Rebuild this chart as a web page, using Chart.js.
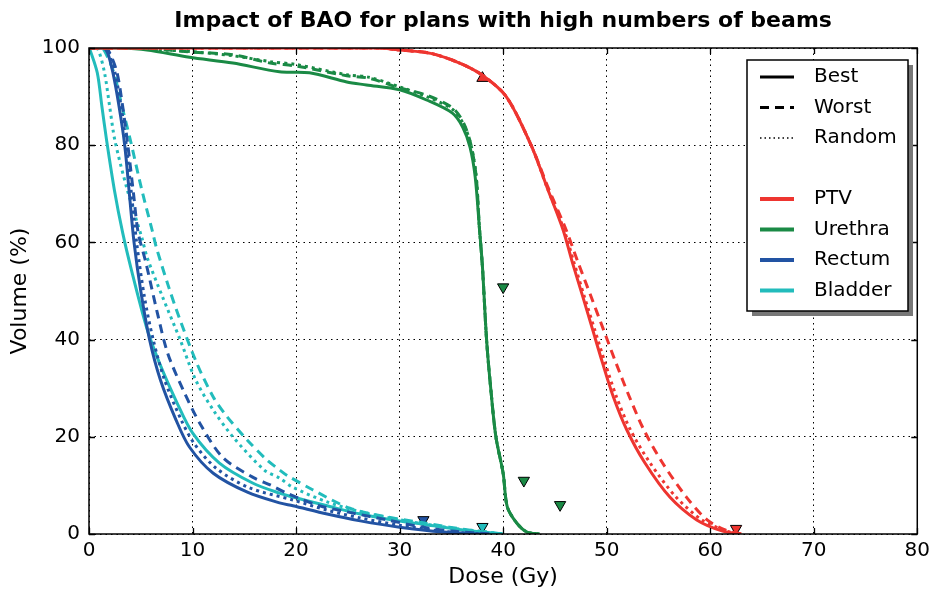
<!DOCTYPE html>
<html>
<head>
<meta charset="utf-8">
<title>Impact of BAO</title>
<script src="https://cdn.jsdelivr.net/npm/chart.js@4.4.0/dist/chart.umd.min.js"></script>
<style>
    html, body { margin: 0; padding: 0; background: #fff; }
    #wrap { width: 935px; height: 590px; position: relative; }
</style>
</head>
<body>
<div id="wrap"><canvas id="dvh"></canvas></div>
<script>
// Dose-volume histograms, [dose (Gy), volume (%)]
const ptvBest = [[0,100],[28,100],[30,99.6],[33,98.9],[35.8,96.9],[38,94.4],[40.3,90],[42.7,80],[44.3,71],[45.8,62.5],[46.7,55.8],[47.7,48.8],[48.65,42],[49.6,35.2],[50.65,28.2],[51.95,21.4],[53.7,14.6],[56.1,7.6],[58.7,2.9],[61.2,0.6],[63,0]];
const ptvWorst = [[0,100],[28,100],[30,99.6],[33,98.9],[35.8,96.9],[38,94.4],[40.3,90],[42.7,80],[44.4,71],[46.1,62.5],[47.25,55.8],[48.5,48.8],[49.7,42],[50.9,35.2],[52.2,28.2],[53.6,21.4],[55.4,14.6],[57.7,7.6],[59.7,2.9],[61.5,0.8],[63,0]];
const ptvRandom = [[0,100],[28,100],[30,99.6],[33,98.9],[35.8,96.9],[38,94.4],[40.3,90],[42.7,80],[44.3,71],[45.9,62.5],[46.85,55.8],[47.85,48.8],[48.85,42],[49.85,35.2],[50.95,28.2],[52.3,21.4],[54.2,14.6],[56.7,7.6],[59.2,2.9],[61.6,0.6],[63,0]];

const urethraBest = [[0,100],[3,100],[5.6,99.6],[9.7,98.1],[13.9,96.9],[18.4,95.1],[21.3,94.9],[24.9,93],[26.8,92.4],[30,91.4],[32.6,89.3],[35.1,86.6],[36.1,83.7],[36.8,79.6],[37.3,73.5],[37.7,63.2],[38.0,55],[38.4,40],[38.8,30],[39.3,20],[40.0,12.5],[40.4,5.6],[41.3,2.3],[42.3,0.4],[43.5,0]];
const urethraWorst = [[0,100],[4,100],[7,99.7],[9.7,99.2],[13.9,98.6],[17.5,96.9],[20,96.3],[24.9,94.3],[27,93.8],[30,91.8],[32.6,90.3],[35.1,87.7],[36.2,84.5],[36.9,80],[37.4,73.5],[37.7,63.2],[38.0,55],[38.4,40],[38.8,30],[39.3,20],[40.0,12.5],[40.4,5.6],[41.3,2.3],[42.3,0.4],[43.5,0]];
const urethraRandom = [[0,100],[4,100],[7,99.6],[9.7,99.3],[13.9,98.4],[17.5,97.2],[20,96.6],[24.9,94.5],[27,94.0],[30,92.0],[32.6,90.0],[35.1,87.4],[36.2,84.2],[36.9,80],[37.4,73.5],[37.7,63.2],[38.0,55],[38.4,40],[38.8,30],[39.3,20],[40.0,12.5],[40.4,5.6],[41.3,2.3],[42.3,0.4],[43.5,0]];

const rectumBest = [[0,100],[1.4,100],[1.8,99],[2.3,95],[2.9,88],[3.45,80],[3.9,70],[4.35,60],[5.0,50],[5.85,40],[6.9,31.7],[8.4,23.5],[9.7,17.9],[12,12.5],[15.3,8.6],[18.4,6.4],[19.7,5.8],[23,4.1],[26.2,2.7],[30,1.4],[34.2,0.4],[38,0]];
const rectumWorst = [[0,100],[1.6,100],[2.0,99],[2.7,95],[3.25,88],[3.75,80],[4.3,70],[4.75,62],[5.5,55.8],[6.6,45.5],[7.6,37.2],[9.1,29.6],[10.7,22.8],[12.9,15.8],[15.8,11.7],[17.5,10.1],[19.1,8.4],[22.3,5.8],[25.5,4.3],[28.8,2.9],[32,1.5],[35,0.6],[39,0]];
const rectumRandom = [[0,100],[1.5,100],[1.9,99],[2.5,95],[3.1,88],[3.6,80],[4.1,70],[4.6,60],[5.35,48.8],[6.2,40],[7.3,31.7],[8.9,23.5],[10.2,18.5],[12.3,13.5],[15.5,9.5],[19.7,7],[23,4.9],[26.2,3.3],[30,1.8],[34,0.6],[38,0]];

const bladderBest = [[0,100],[0.1,99.6],[0.8,94.9],[1.25,87.9],[1.7,81],[2.45,70.8],[3.25,62],[4.1,54.3],[5.55,42.6],[6.8,35.2],[8.5,27],[10,20.8],[12.6,14.6],[15.8,10.5],[18.4,8.4],[19.7,7.6],[23,5.8],[26.2,4.1],[29.3,2.9],[32.6,1.9],[35.5,1.0],[38,0.4],[40,0]];
const bladderWorst = [[0,100],[1.2,100],[1.6,99],[2.4,94.9],[3.2,87.9],[4.0,81],[5.1,70.8],[6.1,62.5],[6.5,59],[7.7,50.8],[8.7,44.6],[10.4,35.2],[12,28.2],[13.2,24.5],[15.3,19.3],[17.2,15.2],[18.4,13.2],[19.1,12.1],[21.6,9.1],[25.2,5.3],[28.8,3.5],[31.7,2.5],[34.8,1.4],[37.5,0.6],[40,0]];
const bladderRandom = [[0,100],[0.5,100],[0.9,99.6],[1.5,94.9],[2.0,87.9],[2.5,81],[3.7,70.8],[5.1,61],[5.6,57],[7.1,48.8],[8.8,40],[10.3,31.7],[12,25.5],[13.9,20],[16.9,13.2],[18.4,11.5],[19.7,9.6],[23,6.6],[26.2,4.6],[29.3,3.2],[32.6,2.0],[35.5,1.1],[38,0.5],[40,0]];

// Constraint markers, [dose (Gy), volume (%)]
const ptvUpMarks = [[38.0,93.8]];
const ptvDownMarks = [[62.5,1.1]];
const urethraDownMarks = [[40.0,50.8],[42.0,11.0],[45.5,6.0]];
const rectumDownMarks = [[32.3,2.9]];
const bladderDownMarks = [[38.0,1.5]];

const structureNames = ['PTV', 'Urethra', 'Rectum', 'Bladder'];
const planNames = ['Best', 'Worst', 'Random'];
const doseTicks = [0, 10, 20, 30, 40, 50, 60, 70, 80];
const volumeTicks = [0, 20, 40, 60, 80, 100];

const colors = {
    PTV: '#ee3530',
    Urethra: '#1a8a45',
    Rectum: '#2253a3',
    Bladder: '#22bcbc'
};
const dashes = {
    Best: [],
    Worst: [9, 6],
    Random: [3, 4]
};

const curves = {
    PTV: [ptvBest, ptvWorst, ptvRandom],
    Urethra: [urethraBest, urethraWorst, urethraRandom],
    Rectum: [rectumBest, rectumWorst, rectumRandom],
    Bladder: [bladderBest, bladderWorst, bladderRandom]
};

const toPoints = arr => arr.map(p => ({ x: p[0], y: p[1] }));

const datasets = [];
structureNames.forEach(name => {
    planNames.forEach((plan, i) => {
        datasets.push({
            type: 'line',
            label: name + ' ' + plan,
            data: toPoints(curves[name][i]),
            borderColor: colors[name],
            borderWidth: 3,
            borderDash: dashes[plan],
            borderCapStyle: 'butt',
            pointRadius: 0,
            fill: false,
            tension: 0.3
        });
    });
});

function markerSet(label, points, color, rotation) {
    return {
        type: 'scatter',
        label: label,
        data: toPoints(points),
        pointStyle: 'triangle',
        rotation: rotation,
        pointRadius: 6.5,
        backgroundColor: color,
        borderColor: '#000',
        borderWidth: 1
    };
}
datasets.push(markerSet('PTV min', ptvUpMarks, colors.PTV, 0));
datasets.push(markerSet('PTV max', ptvDownMarks, colors.PTV, 180));
datasets.push(markerSet('Urethra max', urethraDownMarks, colors.Urethra, 180));
datasets.push(markerSet('Rectum max', rectumDownMarks, colors.Rectum, 180));
datasets.push(markerSet('Bladder max', bladderDownMarks, colors.Bladder, 180));

const FONT = 'DejaVu Sans';
const TITLE = 'Impact of BAO for plans with high numbers of beams';

// Title centred over the plot area rather than the canvas
const titlePlugin = {
    id: 'plotTitle',
    afterDraw(chart) {
        const { ctx, chartArea: a } = chart;
        ctx.save();
        ctx.font = 'bold 22px "' + FONT + '"';
        ctx.fillStyle = '#000';
        ctx.textAlign = 'center';
        ctx.textBaseline = 'middle';
        ctx.fillText(TITLE, (a.left + a.right) / 2, 21);
        ctx.restore();
    }
};

// Frame with inward ticks on all four sides
const framePlugin = {
    id: 'frame',
    afterDatasetsDraw(chart) {
        const { ctx, chartArea: a, scales } = chart;
        ctx.save();
        ctx.strokeStyle = '#000';
        ctx.lineWidth = 1.3;
        const len = 6;
        ctx.beginPath();
        doseTicks.forEach(v => {
            const x = Math.round(scales.x.getPixelForValue(v)) + 0.5;
            ctx.moveTo(x, a.bottom); ctx.lineTo(x, a.bottom - len);
            ctx.moveTo(x, a.top); ctx.lineTo(x, a.top + len);
        });
        volumeTicks.forEach(v => {
            const y = Math.round(scales.y.getPixelForValue(v)) + 0.5;
            ctx.moveTo(a.left, y); ctx.lineTo(a.left + len, y);
            ctx.moveTo(a.right, y); ctx.lineTo(a.right - len, y);
        });
        ctx.stroke();
        ctx.lineWidth = 1.5;
        ctx.strokeRect(a.left, a.top, a.right - a.left, a.bottom - a.top);
        ctx.restore();
    }
};

// Two-part legend: plan line styles, then structure colours
const legendPlugin = {
    id: 'dvhLegend',
    afterDraw(chart) {
        const ctx = chart.ctx;
        const box = { x: 747, y: 60, w: 161, h: 251 };
        ctx.save();
        ctx.fillStyle = '#777';
        ctx.fillRect(box.x + 5, box.y + 5, box.w, box.h);
        ctx.fillStyle = '#fff';
        ctx.fillRect(box.x, box.y, box.w, box.h);
        ctx.strokeStyle = '#000';
        ctx.lineWidth = 1.5;
        ctx.strokeRect(box.x, box.y, box.w, box.h);

        ctx.font = '20px "' + FONT + '"';
        ctx.textBaseline = 'middle';
        ctx.fillStyle = '#000';
        const rowH = 30.5;
        let y = box.y + 17;
        planNames.forEach(plan => {
            ctx.beginPath();
            ctx.strokeStyle = '#000';
            ctx.lineWidth = plan === 'Random' ? 1.5 : 3;
            ctx.setLineDash(plan === 'Random' ? [1.5, 3] : dashes[plan].length ? [9, 6] : []);
            ctx.moveTo(760, y); ctx.lineTo(794, y);
            ctx.stroke();
            ctx.setLineDash([]);
            ctx.fillText(plan, 814, y);
            y += rowH;
        });
        y += rowH;
        structureNames.forEach(name => {
            ctx.beginPath();
            ctx.strokeStyle = colors[name];
            ctx.lineWidth = 4;
            ctx.moveTo(760, y); ctx.lineTo(794, y);
            ctx.stroke();
            ctx.fillText(name, 814, y);
            y += rowH;
        });
        ctx.restore();
    }
};

new Chart(document.getElementById('dvh'), {
    data: { datasets: datasets },
    options: {
        responsive: true,
        maintainAspectRatio: false,
        animation: false,
        layout: { padding: { left: 0, right: 17, top: 48, bottom: 0 } },
        plugins: {
            legend: { display: false },
            tooltip: { enabled: false },
            title: { display: false }
        },
        scales: {
            x: {
                type: 'linear',
                min: 0,
                max: 80,
                afterBuildTicks: s => { s.ticks = doseTicks.map(v => ({ value: v })); },
                afterFit: s => { s.height = 56; },
                ticks: { color: '#000', padding: 5, font: { family: FONT, size: 20 } },
                grid: { color: '#000', lineWidth: 1, drawTicks: false },
                border: { display: false, dash: [1.5, 4] },
                title: {
                    display: true,
                    text: 'Dose (Gy)',
                    color: '#000',
                    font: { family: FONT, size: 22 },
                    padding: { top: 0, bottom: 0 }
                }
            },
            y: {
                type: 'linear',
                min: 0,
                max: 100,
                afterBuildTicks: s => { s.ticks = volumeTicks.map(v => ({ value: v })); },
                afterFit: s => { s.width = 89; },
                ticks: { color: '#000', padding: 9, font: { family: FONT, size: 20 } },
                grid: { color: '#000', lineWidth: 1, drawTicks: false },
                border: { display: false, dash: [1.5, 4] },
                title: {
                    display: true,
                    text: 'Volume (%)',
                    color: '#000',
                    font: { family: FONT, size: 22 },
                    padding: { top: 7, bottom: 0 }
                }
            }
        }
    },
    plugins: [framePlugin, legendPlugin, titlePlugin]
});
</script>
</body>
</html>
